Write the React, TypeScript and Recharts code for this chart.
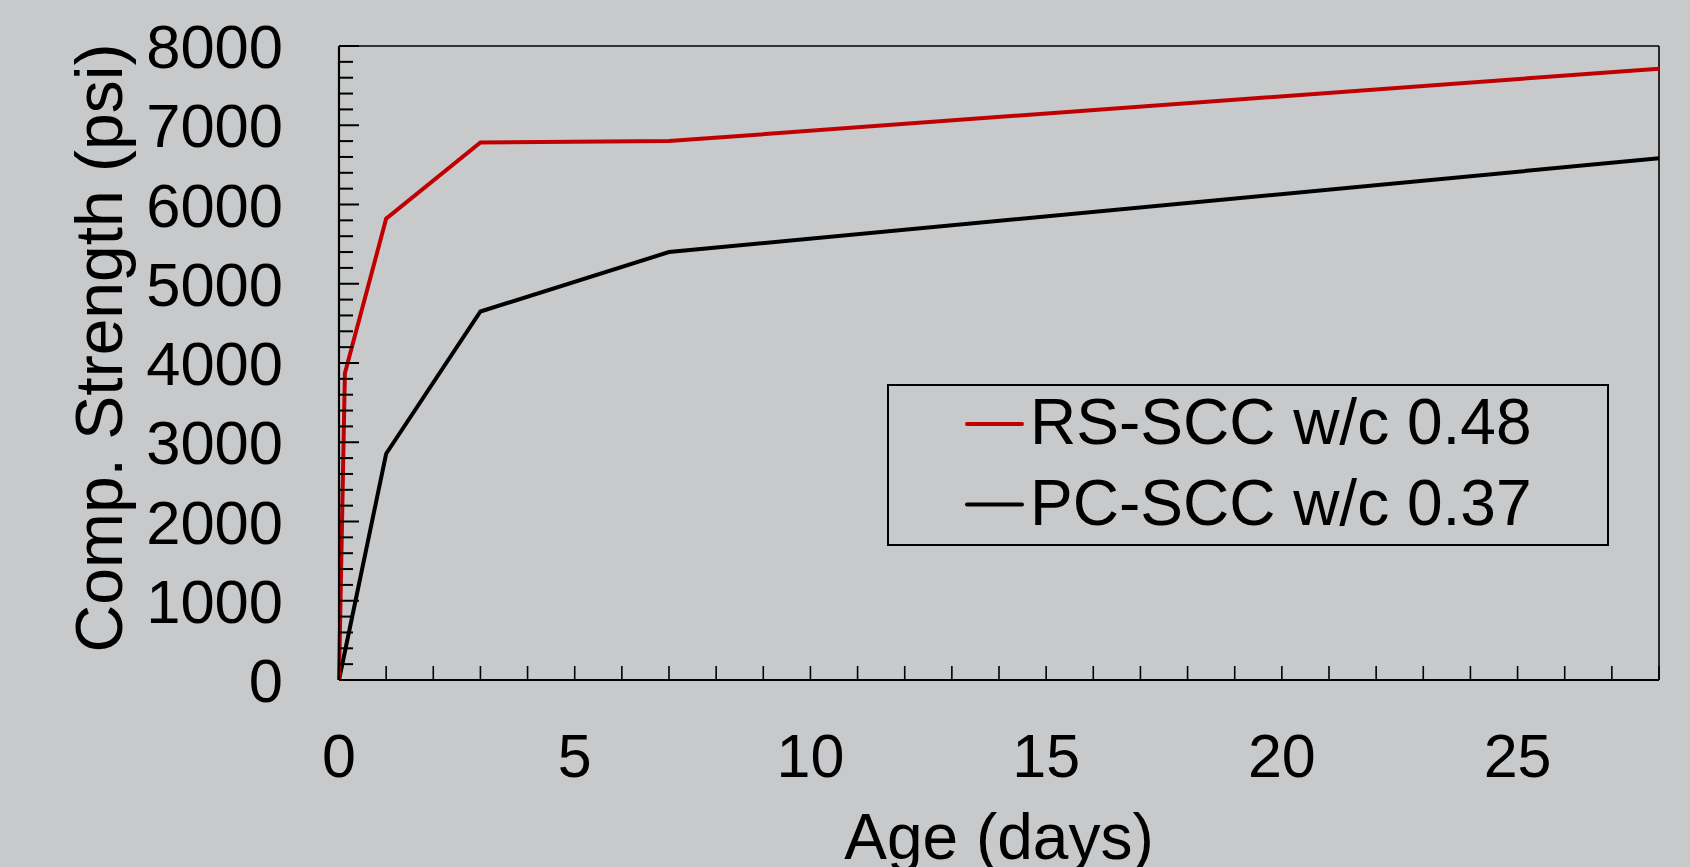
import React from 'react';
import { LineChart, Line, XAxis, YAxis, ReferenceLine, Legend, Label } from 'recharts';

// Data
const rsAge = [0, 0.125, 1, 3, 7, 28];
const rsStrength = [0, 3870, 5820, 6782, 6800, 7713];
const pcAge = [0, 1, 3, 7, 28];
const pcStrength = [0, 2855, 4650, 5400, 6583];

const seriesNames = ['RS-SCC w/c 0.48', 'PC-SCC w/c 0.37'];
const seriesColors = ['#c00000', '#000000'];

const xTicks = Array.from({ length: 29 }, (_, i) => i);
const yTicks = Array.from({ length: 41 }, (_, i) => i * 200);

const rsData = rsAge.map((a, i) => ({ age: a, strength: rsStrength[i] }));
const pcData = pcAge.map((a, i) => ({ age: a, strength: pcStrength[i] }));

const FONT = '"Liberation Sans", Arial, sans-serif';

const YTick = (props: any) => {
  const { x, y, payload } = props;
  const major = payload.value % 1000 === 0;
  return (
    <g>
      <line x1={x} x2={x + (major ? 20 : 14)} y1={y} y2={y} stroke="#000" strokeWidth={2} />
      {major && (
        <text x={x - 56} y={y + 22} textAnchor="end" fontSize={61.5} fontFamily={FONT} fill="#000">
          {payload.value}
        </text>
      )}
    </g>
  );
};

const XTick = (props: any) => {
  const { x, y, payload } = props;
  const major = payload.value % 5 === 0;
  return (
    <g>
      <line x1={x} x2={x} y1={y} y2={y - 14} stroke="#000" strokeWidth={1.6} />
      {major && (
        <text x={x} y={y + 97} textAnchor="middle" fontSize={61} fontFamily={FONT} fill="#000">
          {payload.value}
        </text>
      )}
    </g>
  );
};

const XTitle = (props: any) => {
  const vb = props.viewBox || {};
  const cx = vb.x + vb.width / 2;
  return (
    <text x={cx} y={vb.y + 179} textAnchor="middle" fontSize={64} fontFamily={FONT} fill="#000">
      Age (days)
    </text>
  );
};

const YTitle = (props: any) => {
  const cx = 122;
  const cy = 348;
  return (
    <text
      x={cx}
      y={cy}
      transform={`rotate(-90, ${cx}, ${cy})`}
      textAnchor="middle"
      fontSize={66}
      fontFamily={FONT}
      fill="#000"
    >
      Comp. Strength (psi)
    </text>
  );
};

const LegendBox = () => (
  <svg width={724} height={164} style={{ display: 'block' }}>
    <rect x={1} y={1} width={720} height={160} fill="none" stroke="#000" strokeWidth={2} />
    {seriesNames.map((n, i) => (
      <g key={n}>
        <line x1={80} x2={135} y1={40 + i * 80.5} y2={40 + i * 80.5} stroke={seriesColors[i]} strokeWidth={4} strokeLinecap="round" />
        <text x={143} y={60 + i * 80.5} fontSize={64} fontFamily={FONT} fill="#000">
          {n}
        </text>
      </g>
    ))}
  </svg>
);

export default function App() {
  return (
    <div style={{ position: 'absolute', left: 0, top: 0, width: 1690, height: 867, background: '#c8c9cb' }}>
      <LineChart width={1690} height={867} margin={{ top: 46, right: 31, bottom: 0, left: 0 }}>
        <XAxis
          type="number"
          dataKey="age"
          domain={[0, 28]}
          ticks={xTicks}
          interval={0}
          height={187}
          tickSize={0}
          tickMargin={0}
          tickLine={false}
          tick={XTick}
          axisLine={{ stroke: '#000', strokeWidth: 2 }}
          allowDuplicatedCategory={false}
        >
          <Label content={XTitle} />
        </XAxis>
        <YAxis
          type="number"
          domain={[0, 8000]}
          ticks={yTicks}
          interval={0}
          width={339}
          tickSize={0}
          tickMargin={0}
          tickLine={false}
          tick={YTick}
          axisLine={{ stroke: '#000', strokeWidth: 2.2 }}
        >
          <Label content={YTitle} />
        </YAxis>
        <ReferenceLine y={8000} stroke="#000" strokeWidth={1.6} />
        <ReferenceLine x={28} stroke="#000" strokeWidth={1.6} />
        <Line
          data={pcData}
          dataKey="strength"
          name={seriesNames[1]}
          type="linear"
          stroke={seriesColors[1]}
          strokeWidth={4}
          dot={false}
          activeDot={false}
          isAnimationActive={false}
        />
        <Line
          data={rsData}
          dataKey="strength"
          name={seriesNames[0]}
          type="linear"
          stroke={seriesColors[0]}
          strokeWidth={4}
          dot={false}
          activeDot={false}
          isAnimationActive={false}
        />
        <Legend
          layout="vertical"
          align="center"
          verticalAlign="middle"
          content={LegendBox}
          wrapperStyle={{ left: 887, top: 384, width: 724, height: 164 }}
        />
      </LineChart>
    </div>
  );
}
